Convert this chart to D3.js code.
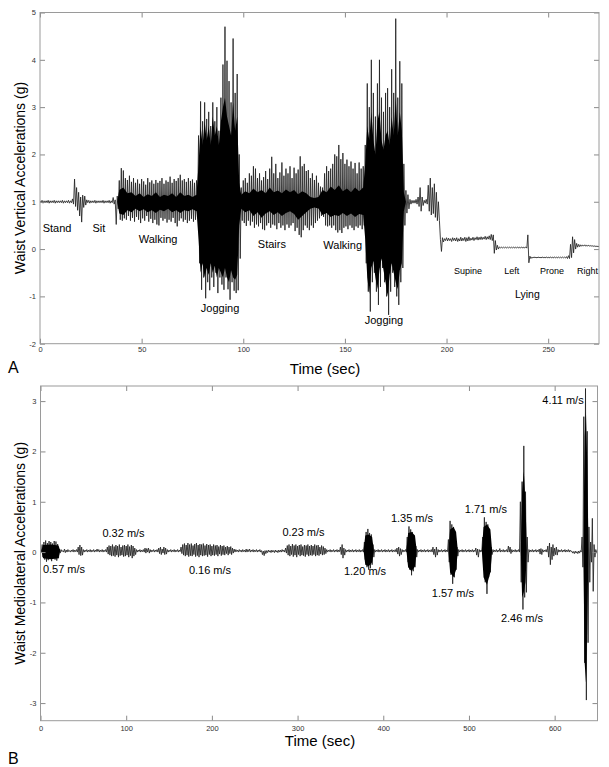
<!DOCTYPE html>
<html>
<head>
<meta charset="utf-8">
<script src="https://cdn.jsdelivr.net/npm/d3@7"></script>
<style>
body { margin: 0; background: #fff; }
svg text { font-family: Arial, "Liberation Sans", sans-serif; }
</style>
</head>
<body>
<div id="plot"></div>
<script>
// ---- panel A : waist vertical acceleration, one hi/lo pair per second (t = 0..275)
const vertHi = [
  1.02,1.03,1.02,1.02,1.03,1.02,1.02,1.03,1.02,1.02,
  1.02,1.03,1.02,1.02,1.03,1.02,1.06,1.48,1.3,1.2,
  1.1,1.14,1.12,1.04,1.03,1.02,1.02,1.03,1.02,1.02,
  1.02,1.03,1.02,1.02,1.03,1.02,1.09,1.04,1.12,1.45,
  1.71,1.66,1.5,1.46,1.55,1.42,1.5,1.4,1.47,1.38,
  1.48,1.43,1.36,1.5,1.41,1.45,1.38,1.46,1.4,1.44,
  1.5,1.38,1.45,1.42,1.53,1.4,1.48,1.44,1.5,1.57,
  1.45,1.48,1.42,1.5,1.44,1.47,1.4,1.45,2.4,3.12,
  2.7,3.1,2.75,2.9,2.6,3.1,2.7,3.0,2.5,3.2,
  3.9,4.7,3.98,3.55,3.1,4.45,3.3,3.7,2.0,1.3,
  1.45,1.5,1.4,1.6,1.55,1.75,1.7,1.5,1.6,1.45,
  1.52,1.65,1.48,1.7,1.95,1.6,1.8,1.5,1.62,1.83,
  1.55,1.7,1.6,1.75,1.5,1.72,1.6,1.68,1.96,1.75,
  1.8,1.65,1.67,1.5,1.6,1.46,1.55,1.4,1.32,1.3,
  1.6,1.75,1.65,1.7,1.8,2.0,1.96,2.2,1.9,2.03,
  1.8,1.89,1.75,1.85,1.7,1.82,1.6,1.83,1.7,1.75,
  2.2,3.5,3.0,4.0,3.3,2.8,3.5,4.0,3.2,2.9,
  3.3,3.4,3.0,3.8,3.3,4.87,3.2,3.97,3.5,1.8,
  1.24,1.15,1.05,1.03,1.03,1.05,1.1,1.3,1.1,1.03,
  1.05,1.35,1.5,1.3,1.38,1.2,1.0,0.2,0.24,0.22,
  0.24,0.23,0.22,0.24,0.23,0.24,0.22,0.25,0.23,0.25,
  0.24,0.26,0.23,0.25,0.24,0.26,0.25,0.26,0.25,0.27,
  0.26,0.28,0.31,0.3,0.18,0.08,0.045,0.045,0.04,0.045,
  0.04,0.045,0.04,0.045,0.04,0.045,0.04,0.045,0.04,0.045,
  0.3,-0.15,-0.17,-0.165,-0.17,-0.165,-0.17,-0.165,-0.17,-0.165,
  -0.17,-0.165,-0.17,-0.165,-0.17,-0.165,-0.17,-0.165,-0.17,-0.16,
  -0.14,0.1,0.26,0.2,0.12,0.1,0.09,0.085,0.09,0.08,
  0.08,0.075,0.07,0.07,0.065,0.06
];
const vertLo = [
  0.98,0.97,0.98,0.98,0.97,0.98,0.98,0.97,0.98,0.98,
  0.98,0.97,0.98,0.98,0.97,0.98,0.95,0.9,0.82,0.7,
  0.57,0.88,0.93,0.98,0.97,0.98,0.98,0.97,0.98,0.98,
  0.98,0.97,0.98,0.98,0.97,0.98,0.95,0.52,0.85,0.62,
  0.6,0.65,0.62,0.7,0.6,0.66,0.58,0.68,0.62,0.55,
  0.65,0.6,0.7,0.58,0.64,0.55,0.62,0.52,0.5,0.66,
  0.6,0.64,0.56,0.62,0.58,0.66,0.55,0.48,0.6,0.65,
  0.58,0.62,0.55,0.6,0.64,0.58,0.62,0.7,-0.3,-0.86,
  -0.6,-1.04,-0.7,-0.87,-0.6,-0.8,-0.5,-0.93,-0.6,-0.75,
  -0.86,-0.6,-0.85,-1.07,-0.7,-0.88,-0.93,-0.87,-0.2,0.6,
  0.55,0.49,0.6,0.5,0.58,0.45,0.52,0.48,0.55,0.42,
  0.4,0.5,0.55,0.45,0.52,0.5,0.42,0.55,0.45,0.5,
  0.4,0.52,0.45,0.5,0.55,0.38,0.45,0.3,0.25,0.4,
  0.5,0.45,0.4,0.5,0.45,0.55,0.6,0.65,0.7,0.68,
  0.5,0.48,0.5,0.45,0.5,0.4,0.35,0.4,0.34,0.45,
  0.48,0.42,0.5,0.45,0.4,0.48,0.45,0.5,0.42,0.5,
  -0.3,-0.9,-1.32,-0.7,-0.5,-0.9,-1.18,-0.8,-0.4,-0.7,
  -1.0,-1.39,-0.9,-0.5,-0.8,-1.0,-1.18,-0.7,-0.4,0.5,
  0.76,0.85,0.95,0.97,0.97,0.95,0.9,0.8,0.92,0.97,
  0.95,0.8,0.72,0.75,0.67,0.6,0.6,-0.05,0.15,0.18,
  0.17,0.18,0.16,0.18,0.17,0.16,0.17,0.17,0.18,0.16,
  0.17,0.18,0.19,0.18,0.2,0.19,0.2,0.2,0.21,0.2,
  0.21,0.2,0.18,-0.09,-0.02,0.0,0.025,0.02,0.025,0.02,
  0.025,0.02,0.025,0.02,0.025,0.02,0.025,0.02,0.025,0.02,
  -0.29,-0.2,-0.19,-0.185,-0.19,-0.185,-0.19,-0.185,-0.19,-0.185,
  -0.19,-0.185,-0.19,-0.185,-0.19,-0.185,-0.19,-0.185,-0.19,-0.2,
  -0.2,-0.18,-0.08,0.0,0.04,0.05,0.06,0.065,0.06,0.065,
  0.06,0.06,0.055,0.05,0.05,0.045
];
// dense dark band of the trace (where most cycles overlap)
const vertCoreT = [
  38, 39,41,43,45,47,49,51,53,55,57,59,61,63,65,67,69,71,73,75,77,
  78,79,80,81,82,83,84,85,86,87,88,89,90,91,92,93,94,95,96,97,98,
  99,101,103,105,107,109,111,113,115,117,119,121,123,125,127,129,
  131,133,135,137,139,141,143,145,147,149,151,153,155,157,159,
  160,161,162,163,164,165,166,167,168,169,170,171,172,173,174,175,176,177,178,179,
  180
];
const vertCoreTop = [
  1.0, 1.25,1.3,1.18,1.2,1.12,1.18,1.1,1.16,1.12,1.2,1.1,1.15,1.12,1.18,1.1,1.2,1.12,1.15,1.1,1.15,
  1.8,2.6,2.2,2.7,2.3,2.6,2.2,2.8,2.4,2.6,2.2,2.7,3.0,3.2,2.8,2.6,2.4,3.1,2.5,2.8,1.4,
  1.15,1.22,1.18,1.28,1.2,1.25,1.18,1.3,1.2,1.24,1.18,1.26,1.2,1.25,1.16,1.22,
  1.18,1.1,1.08,1.1,1.25,1.2,1.32,1.25,1.35,1.22,1.28,1.2,1.3,1.22,1.3,
  1.8,2.6,2.3,2.9,2.3,2.0,2.7,2.9,2.3,2.1,2.4,2.5,2.2,2.8,2.4,3.2,2.4,2.9,2.5,1.2,
  1.0
];
const vertCoreBot = [
  1.0, 0.75,0.72,0.82,0.78,0.85,0.8,0.84,0.78,0.82,0.76,0.83,0.8,0.85,0.78,0.82,0.76,0.82,0.8,0.84,0.8,
  0.2,-0.5,-0.3,-0.6,-0.4,-0.55,-0.3,-0.5,-0.35,-0.6,-0.4,-0.5,-0.6,-0.4,-0.6,-0.7,-0.45,-0.6,-0.65,-0.55,0.5,
  0.85,0.78,0.82,0.7,0.78,0.66,0.75,0.8,0.72,0.78,0.7,0.76,0.8,0.74,0.62,0.7,
  0.78,0.85,0.88,0.86,0.72,0.76,0.68,0.72,0.7,0.76,0.7,0.75,0.68,0.74,0.72,
  0.2,-0.6,-0.95,-0.4,-0.25,-0.6,-0.85,-0.45,-0.2,-0.45,-0.7,-1.0,-0.55,-0.3,-0.5,-0.7,-0.85,-0.45,-0.3,0.8,
  1.0
];
const activityLabels = ["Stand", "Sit", "Walking", "Jogging", "Stairs", "Walking", "Jogging"];
const activityT = [8.4, 29.0, 58.1, 88.6, 114.1, 148.9, 169.2];
const activityV = [0.36, 0.36, 0.13, -1.32, 0.03, 0.0, -1.58];
const lyingLabels = ["Supine", "Left", "Prone", "Right"];
const lyingT = [210.6, 232.1, 251.9, 269.3];
const lyingV = [-0.53, -0.53, -0.53, -0.53];
const lyingGroup = {text: "Lying", t: 239.8, v: -1.03};
const vertXTicks = [0, 50, 100, 150, 200, 250];
const vertYTicks = [-2, -1, 0, 1, 2, 3, 4, 5];

// ---- panel B : waist mediolateral acceleration, one hi/lo pair per 2 s (t = 0..650)
const mlHi = [
  0.04,0.15,0.2,0.23,0.18,0.22,0.2,0.17,0.22,0.21,
  0.16,0.06,0.05,0.03,0.06,0.04,0.05,0.03,0.04,0.05,
  0.04,0.05,0.1,0.14,0.1,0.05,0.04,0.05,0.04,0.05,
  0.04,0.05,0.04,0.06,0.05,0.04,0.05,0.04,0.05,0.1,
  0.13,0.12,0.15,0.11,0.14,0.12,0.15,0.1,0.13,0.14,
  0.12,0.15,0.11,0.14,0.12,0.08,0.05,0.04,0.05,0.04,
  0.05,0.08,0.07,0.08,0.05,0.04,0.05,0.04,0.05,0.08,
  0.1,0.06,0.1,0.08,0.05,0.04,0.05,0.04,0.05,0.04,
  0.05,0.04,0.1,0.15,0.17,0.14,0.18,0.15,0.17,0.13,
  0.16,0.18,0.14,0.16,0.15,0.17,0.13,0.16,0.14,0.15,
  0.12,0.15,0.13,0.14,0.11,0.14,0.12,0.13,0.1,0.12,
  0.1,0.11,0.08,0.06,0.05,0.04,0.05,0.04,0.05,0.04,
  0.06,0.05,0.06,0.04,0.05,0.04,0.05,0.04,0.05,0.03,
  0.02,0.03,0.03,0.04,0.03,0.04,0.03,0.04,0.03,0.04,
  0.04,0.05,0.04,0.08,0.13,0.15,0.12,0.16,0.13,0.15,
  0.12,0.14,0.15,0.11,0.14,0.13,0.15,0.12,0.14,0.12,
  0.15,0.13,0.14,0.1,0.13,0.11,0.08,0.05,0.04,0.05,
  0.04,0.05,0.04,0.05,0.04,0.1,0.15,0.08,0.05,0.04,
  0.05,0.04,0.05,0.04,0.05,0.04,0.05,0.04,0.05,0.2,
  0.4,0.46,0.38,0.35,0.15,0.05,0.04,0.05,0.04,0.05,
  0.04,0.05,0.04,0.05,0.04,0.05,0.04,0.05,0.08,0.1,
  0.07,0.05,0.04,0.05,0.3,0.51,0.45,0.4,0.3,0.12,
  0.05,0.04,0.05,0.04,0.05,0.04,0.05,0.04,0.05,0.1,
  0.06,0.1,0.05,0.04,0.05,0.04,0.05,0.04,0.25,0.62,
  0.55,0.5,0.4,0.1,0.05,0.04,0.05,0.04,0.05,0.04,
  0.05,0.04,0.05,0.04,0.08,0.06,0.05,0.04,0.3,0.69,
  0.6,0.55,0.4,0.1,0.05,0.04,0.05,0.04,0.07,0.04,
  0.05,0.04,0.05,0.12,0.1,0.05,0.04,0.05,0.04,0.05,
  1.0,1.4,2.11,1.2,0.3,0.05,0.04,0.05,0.04,0.05,
  0.04,0.06,0.07,0.05,0.04,0.05,0.12,0.18,0.1,0.15,
  0.08,0.1,0.05,0.04,0.05,0.04,0.05,0.04,0.05,0.04,
  0.02,0.01,0.02,0.01,0.02,0.03,0.3,2.69,3.25,2.4,
  0.5,0.2,0.67,0.15,0.05,0.04
];
const mlLo = [
  0.0,-0.1,-0.15,-0.19,-0.16,-0.14,-0.18,-0.12,-0.15,-0.17,
  -0.12,-0.02,0.01,0.0,-0.01,0.0,0.01,0.0,0.01,0.0,
  0.01,0.0,-0.05,-0.07,-0.06,0.0,0.01,0.0,0.01,0.0,
  0.01,0.0,0.01,0.01,0.0,0.01,0.0,0.01,0.0,-0.04,
  -0.06,-0.08,-0.07,-0.09,-0.06,-0.1,-0.07,-0.06,-0.09,-0.08,
  -0.06,-0.1,-0.07,-0.12,-0.08,-0.05,0.0,0.01,0.0,0.01,
  0.0,-0.02,0.0,-0.02,0.0,0.01,0.0,0.01,0.0,-0.03,
  -0.05,-0.02,-0.05,-0.04,0.0,0.01,0.0,0.01,0.0,0.01,
  0.0,0.01,-0.03,-0.06,-0.08,-0.06,-0.09,-0.07,-0.08,-0.05,
  -0.09,-0.07,-0.1,-0.06,-0.08,-0.07,-0.06,-0.09,-0.05,-0.08,
  -0.06,-0.07,-0.05,-0.08,-0.04,-0.07,-0.05,-0.06,-0.03,-0.06,
  -0.03,-0.05,-0.02,0.0,0.01,0.0,0.01,0.0,0.01,0.0,
  0.0,0.01,0.0,0.01,0.0,0.01,0.0,0.01,0.0,-0.05,
  -0.07,-0.03,-0.01,0.0,-0.01,0.0,-0.01,0.0,-0.01,0.0,
  0.0,0.01,0.0,-0.02,-0.06,-0.08,-0.05,-0.09,-0.06,-0.1,
  -0.05,-0.08,-0.06,-0.07,-0.09,-0.05,-0.08,-0.06,-0.07,-0.05,
  -0.08,-0.06,-0.07,-0.04,-0.06,-0.05,-0.03,0.0,0.01,0.0,
  0.01,0.0,0.01,0.0,0.01,-0.05,-0.12,-0.06,0.0,0.01,
  0.0,0.01,0.0,0.01,0.0,0.01,0.0,0.01,0.0,-0.15,
  -0.3,-0.35,-0.32,-0.25,-0.1,0.0,0.01,0.0,0.01,0.0,
  0.01,0.0,0.01,0.0,0.01,0.0,0.01,0.0,-0.04,-0.08,
  -0.05,0.0,0.01,0.0,-0.2,-0.35,-0.46,-0.38,-0.3,-0.1,
  0.0,0.01,0.0,0.01,0.0,0.01,0.0,0.01,0.0,-0.05,
  -0.1,-0.06,0.0,0.01,0.0,0.01,0.0,0.01,-0.2,-0.45,
  -0.63,-0.5,-0.35,-0.08,0.0,0.01,0.0,0.01,0.0,0.01,
  0.0,0.01,0.0,0.01,-0.06,-0.1,0.0,0.01,-0.25,-0.6,
  -0.83,-0.5,-0.4,-0.05,0.0,0.01,0.0,0.01,0.0,0.01,
  0.0,0.01,0.0,0.0,-0.03,0.0,0.01,0.0,0.01,0.0,
  -0.6,-1.14,-0.9,-0.8,-0.2,0.0,0.01,0.0,0.01,0.0,
  0.01,-0.04,-0.05,0.0,0.01,0.0,-0.1,-0.25,-0.15,-0.08,
  -0.05,-0.06,0.0,0.01,0.0,0.01,0.0,0.01,0.0,0.01,
  -0.02,-0.03,-0.02,-0.03,-0.02,0.0,-0.3,-2.2,-2.94,-1.8,
  -0.6,-0.2,-0.78,-0.1,-0.02,0.0
];
const mlCoreT   = [1,3,12,21,23, 377,379,383,387,389, 427,429,433,437,439,
                   476,478,482,485,487, 515,517,521,525,527, 560.5,562,564,566,567.5,
                   633.5,635,636.5,638,639.5];
const mlCoreTop = [0.03,0.14,0.15,0.13,0.03, 0.03,0.33,0.35,0.3,0.03, 0.03,0.38,0.4,0.33,0.03,
                   0.03,0.45,0.5,0.4,0.03, 0.03,0.5,0.55,0.45,0.03, 0.03,1.2,1.6,1.0,0.03,
                   0.03,2.3,2.8,1.8,0.03];
const mlCoreBot = [0.03,-0.12,-0.14,-0.12,0.03, 0.03,-0.25,-0.28,-0.2,0.03, 0.03,-0.3,-0.38,-0.28,0.03,
                   0.03,-0.4,-0.5,-0.35,0.03, 0.03,-0.5,-0.65,-0.4,0.03, 0.03,-0.9,-0.8,-0.6,0.03,
                   0.03,-2.2,-2.6,-1.5,0.03];
const speedLabels = ["0.57 m/s", "0.32 m/s", "0.16 m/s", "0.23 m/s", "1.20 m/s",
                     "1.35 m/s", "1.57 m/s", "1.71 m/s", "2.46 m/s", "4.11 m/s"];
const speedT = [27.4, 96.9, 197.8, 306.9, 378.7, 433.5, 481.3, 519.8, 561.9, 609.7];
const speedV = [-0.415, 0.306, -0.435, 0.32, -0.455, 0.604, -0.898, 0.771, -1.395, 2.943];
const mlXTicks = [0, 100, 200, 300, 400, 500, 600];
const mlYTicks = [-3, -2, -1, 0, 1, 2, 3];

const svg = d3.select("#plot")
  .append("svg")
  .attr("width", 609)
  .attr("height", 767);

function drawPanel(p) {
  const x = d3.scaleLinear().domain(p.xDomain).range([p.left, p.right]);
  const y = d3.scaleLinear().domain(p.yDomain).range([p.bottom, p.top]);
  const g = svg.append("g");

  g.append("clipPath").attr("id", p.id + "clip")
    .append("rect")
    .attr("x", p.left).attr("y", p.top)
    .attr("width", p.right - p.left).attr("height", p.bottom - p.top);

  // signal: rise to each bin's peak, fall to its trough
  const pts = [];
  p.hi.forEach(function(h, i) {
    const t = i * p.step;
    pts.push([t, h]);
    pts.push([t + p.step / 2, p.lo[i]]);
  });
  g.append("path")
    .datum(pts)
    .attr("clip-path", "url(#" + p.id + "clip)")
    .attr("d", d3.line().x(d => x(d[0])).y(d => y(d[1])))
    .attr("fill", "none")
    .attr("stroke", "#222")
    .attr("stroke-width", 0.85);

  // dark core of the trace
  const core = p.coreT.map((t, i) => [t, p.coreBot[i], p.coreTop[i]]);
  g.append("path")
    .datum(core)
    .attr("clip-path", "url(#" + p.id + "clip)")
    .attr("d", d3.area().x(d => x(d[0])).y0(d => y(d[1])).y1(d => y(d[2])))
    .attr("fill", "#000");

  // axes, ticks pointing inward on all four sides
  const fmt = d => String(d);
  g.append("g").attr("transform", "translate(0," + p.bottom + ")")
    .call(d3.axisBottom(x).tickValues(p.xTicks).tickSizeInner(-5).tickSizeOuter(0)
      .tickPadding(p.xPad).tickFormat(fmt));
  g.append("g").attr("transform", "translate(0," + p.top + ")")
    .call(d3.axisTop(x).tickValues(p.xTicks).tickSizeInner(-5).tickSizeOuter(0).tickFormat(""));
  g.append("g").attr("transform", "translate(" + p.left + ",0)")
    .call(d3.axisLeft(y).tickValues(p.yTicks).tickSizeInner(-5).tickSizeOuter(0)
      .tickPadding(4).tickFormat(fmt));
  g.append("g").attr("transform", "translate(" + p.right + ",0)")
    .call(d3.axisRight(y).tickValues(p.yTicks).tickSizeInner(-5).tickSizeOuter(0).tickFormat(""));

  g.selectAll(".domain").remove();
  g.selectAll(".tick line").attr("stroke", "#8a8a8a");
  g.selectAll(".tick text")
    .attr("fill", "#333")
    .style("font-size", "7.5px")
    .style("font-family", "Arial, 'Liberation Sans', sans-serif");

  g.append("rect")
    .attr("x", p.left).attr("y", p.top)
    .attr("width", p.right - p.left).attr("height", p.bottom - p.top)
    .attr("fill", "none")
    .attr("stroke", "#9a9a9a")
    .attr("stroke-width", 1);

  // titles
  g.append("text")
    .attr("x", p.xTitleX).attr("y", p.xTitleY)
    .attr("text-anchor", "middle")
    .style("font-size", "15px")
    .text("Time (sec)");
  g.append("text")
    .attr("transform", "translate(" + p.yTitleX + "," + ((p.top + p.bottom) / 2) + ") rotate(-90)")
    .attr("text-anchor", "middle")
    .style("font-size", "14px")
    .text(p.yTitle);
  g.append("text")
    .attr("x", 8).attr("y", p.letterY)
    .style("font-size", "16px")
    .text(p.letter);

  return {x: x, y: y, g: g};
}

const A = drawPanel({
  id: "vert", left: 40, right: 599, top: 12.5, bottom: 343.7,
  xDomain: [0, 275], yDomain: [-2, 5], step: 1,
  hi: vertHi, lo: vertLo, coreT: vertCoreT, coreTop: vertCoreTop, coreBot: vertCoreBot,
  xTicks: vertXTicks, yTicks: vertYTicks, xPad: 3,
  xTitleX: 325, xTitleY: 374, yTitleX: 25, yTitle: "Waist Vertical Accelerations (g)",
  letter: "A", letterY: 373
});

A.g.selectAll(".activity")
  .data(activityLabels)
  .enter()
  .append("text")
    .attr("class", "activity")
    .attr("x", (d, i) => A.x(activityT[i]))
    .attr("y", (d, i) => A.y(activityV[i]))
    .attr("text-anchor", "middle")
    .style("font-size", "11px")
    .text(d => d);

A.g.selectAll(".lying")
  .data(lyingLabels)
  .enter()
  .append("text")
    .attr("class", "lying")
    .attr("x", (d, i) => A.x(lyingT[i]))
    .attr("y", (d, i) => A.y(lyingV[i]))
    .attr("text-anchor", "middle")
    .style("font-size", "9px")
    .text(d => d);

A.g.append("text")
  .attr("x", A.x(lyingGroup.t))
  .attr("y", A.y(lyingGroup.v))
  .attr("text-anchor", "middle")
  .style("font-size", "10.5px")
  .text(lyingGroup.text);

const B = drawPanel({
  id: "ml", left: 40.5, right: 597.5, top: 386, bottom: 720.7,
  xDomain: [0, 650], yDomain: [-3.35, 3.3], step: 2,
  hi: mlHi, lo: mlLo, coreT: mlCoreT, coreTop: mlCoreTop, coreBot: mlCoreBot,
  xTicks: mlXTicks, yTicks: mlYTicks, xPad: 5,
  xTitleX: 320, xTitleY: 746, yTitleX: 25, yTitle: "Waist Mediolateral Accelerations (g)",
  letter: "B", letterY: 764
});

B.g.selectAll(".speed")
  .data(speedLabels)
  .enter()
  .append("text")
    .attr("class", "speed")
    .attr("x", (d, i) => B.x(speedT[i]))
    .attr("y", (d, i) => B.y(speedV[i]))
    .attr("text-anchor", "middle")
    .style("font-size", "11px")
    .text(d => d);
</script>
</body>
</html>
